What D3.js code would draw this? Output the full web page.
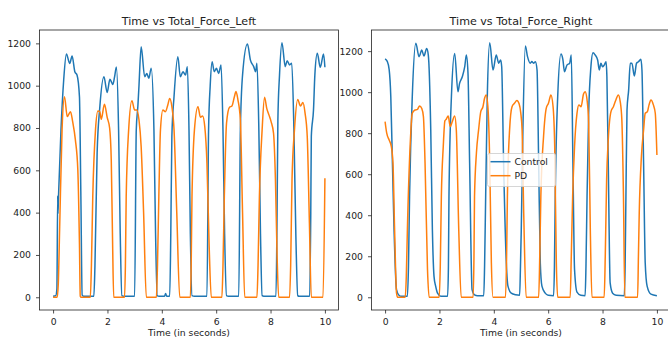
<!DOCTYPE html>
<html>
<head>
<meta charset="utf-8">
<script src="https://cdn.jsdelivr.net/npm/d3@7"></script>
<style>
  body { margin: 0; background: #fff; }
  .tick text { font-family: "DejaVu Sans", sans-serif; font-size: 9.25px; fill: #222; }
  .tick line { stroke: #222; stroke-width: 0.8; }
  .frame { fill: none; stroke: #222; stroke-width: 0.8; }
  .title, .xlabel, .legend text { font-family: "DejaVu Sans", sans-serif; fill: #222; }
</style>
</head>
<body>
<div class="container"></div>
<script>
// time (s), force pairs
var leftControl = [[0,5],[0.1,8],[0.14,40],[0.17,480],[0.18,395],[0.2,480],[0.29,791],[0.39,1027],[0.49,1150],[0.61,1105],[0.7,1140],[0.8,1066],[0.88,1050],[0.97,948],[1.02,500],[1.07,10],[1.12,5],[1.5,5],[1.54,150],[1.62,682],[1.72,900],[1.87,1042],[1.99,968],[2.09,1030],[2.2,1006],[2.26,1040],[2.33,1088],[2.41,791],[2.47,300],[2.53,8],[2.6,5],[3.0,5],[3.06,791],[3.12,905],[3.16,1000],[3.24,1184],[3.37,1042],[3.45,1058],[3.52,1035],[3.61,1082],[3.71,791],[3.77,300],[3.83,8],[3.9,5],[4.1,5],[4.14,18],[4.18,5],[4.29,5],[4.33,300],[4.37,760],[4.45,950],[4.59,1137],[4.68,1042],[4.78,1066],[4.87,1050],[4.94,1090],[5.0,791],[5.05,300],[5.11,8],[5.2,5],[5.66,5],[5.72,791],[5.78,1000],[5.85,1113],[5.93,1066],[6.01,1082],[6.09,1058],[6.18,1098],[6.25,791],[6.31,300],[6.38,8],[6.45,5],[6.83,5],[6.89,791],[6.97,1050],[7.15,1197],[7.26,1121],[7.38,1090],[7.45,1066],[7.5,1106],[7.57,791],[7.63,300],[7.69,8],[7.75,5],[8.2,5],[8.24,400],[8.27,838],[8.33,1050],[8.42,1203],[8.54,1090],[8.61,1118],[8.7,1098],[8.78,1106],[8.86,791],[8.93,300],[9.0,8],[9.05,5],[9.44,5],[9.48,400],[9.5,760],[9.58,885],[9.63,1050],[9.72,1153],[9.83,1087],[9.95,1150],[10.0,1087]];

var leftPD = [[0,0],[0.15,0],[0.19,60],[0.24,319],[0.33,791],[0.42,948],[0.52,854],[0.64,877],[0.72,830],[0.82,744],[0.91,602],[0.97,250],[1.0,5],[1.03,0],[1.37,0],[1.41,150],[1.46,476],[1.56,791],[1.65,880],[1.72,877],[1.77,841],[1.89,912],[1.99,850],[2.08,800],[2.14,650],[2.19,250],[2.23,0],[2.63,0],[2.66,150],[2.69,476],[2.78,791],[2.9,929],[3.0,885],[3.08,885],[3.16,838],[3.24,712],[3.33,400],[3.43,0],[3.8,0],[3.84,150],[3.89,476],[3.95,791],[4.04,885],[4.13,877],[4.22,909],[4.29,940],[4.37,901],[4.45,791],[4.55,400],[4.66,0],[5.05,0],[5.08,150],[5.11,476],[5.2,791],[5.33,901],[5.42,851],[5.5,857],[5.58,807],[5.66,634],[5.74,250],[5.82,0],[6.21,0],[6.25,150],[6.3,476],[6.38,822],[6.49,898],[6.58,904],[6.67,948],[6.73,972],[6.8,933],[6.89,838],[6.97,400],[7.05,0],[7.5,0],[7.54,150],[7.59,476],[7.69,791],[7.78,945],[7.86,893],[7.94,862],[8.02,830],[8.11,775],[8.18,555],[8.24,200],[8.3,0],[8.7,0],[8.74,150],[8.79,555],[8.88,791],[9.0,935],[9.1,904],[9.19,920],[9.27,870],[9.35,760],[9.43,350],[9.5,0],[9.93,0],[10.0,563]];

var rightControl = [[0,1162],[0.08,1150],[0.15,1110],[0.21,978],[0.27,654],[0.33,329],[0.42,37],[0.51,10],[0.6,5],[0.82,5],[0.86,150],[0.9,491],[1.0,978],[1.13,1238],[1.25,1173],[1.35,1205],[1.43,1176],[1.53,1213],[1.59,1181],[1.68,816],[1.74,329],[1.8,102],[1.86,54],[1.93,20],[2.05,5],[2.3,5],[2.33,150],[2.35,491],[2.44,978],[2.56,1189],[2.68,1002],[2.74,1043],[2.84,1075],[2.93,1124],[2.99,1181],[3.05,1092],[3.11,654],[3.2,37],[3.29,12],[3.4,8],[3.63,8],[3.66,150],[3.7,491],[3.76,978],[3.85,1241],[3.97,1108],[4.09,1181],[4.18,1141],[4.25,1157],[4.29,1124],[4.36,654],[4.46,167],[4.52,54],[4.64,20],[4.8,12],[4.95,10],[4.98,150],[5.01,329],[5.07,816],[5.16,1225],[5.24,1173],[5.34,1141],[5.4,1149],[5.46,1141],[5.53,1148],[5.59,1108],[5.65,654],[5.71,167],[5.77,54],[5.89,20],[6.0,10],[6.2,8],[6.23,150],[6.26,491],[6.35,978],[6.47,1186],[6.54,1160],[6.6,1100],[6.69,1132],[6.79,1141],[6.85,1181],[6.91,654],[6.97,135],[7.06,25],[7.2,10],[7.36,8],[7.39,150],[7.43,491],[7.49,900],[7.57,1120],[7.65,1192],[7.73,1181],[7.82,1157],[7.88,1108],[7.94,1141],[8.0,1124],[8.06,1132],[8.13,1148],[8.16,1075],[8.21,654],[8.28,70],[8.37,20],[8.5,10],[8.8,8],[8.83,150],[8.86,491],[8.9,913],[8.96,1010],[9.02,1141],[9.08,1141],[9.17,1079],[9.25,1141],[9.32,1148],[9.41,1160],[9.45,1108],[9.51,654],[9.57,167],[9.64,54],[9.78,15],[10.0,8]];

var rightPD = [[0,856],[0.06,800],[0.15,767],[0.23,735],[0.29,654],[0.35,329],[0.42,21],[0.46,0],[0.74,0],[0.78,100],[0.82,329],[0.92,735],[1.0,897],[1.1,913],[1.19,916],[1.27,933],[1.35,920],[1.41,881],[1.47,654],[1.56,135],[1.62,0],[1.99,0],[2.03,150],[2.07,491],[2.14,735],[2.2,860],[2.25,868],[2.32,884],[2.4,832],[2.47,856],[2.56,884],[2.62,816],[2.71,329],[2.8,0],[3.24,0],[3.27,200],[3.29,491],[3.36,703],[3.44,816],[3.52,905],[3.6,929],[3.66,970],[3.72,986],[3.79,913],[3.85,654],[3.91,167],[3.97,0],[4.43,0],[4.47,200],[4.5,491],[4.58,816],[4.67,929],[4.76,946],[4.85,959],[4.93,943],[4.99,900],[5.04,816],[5.1,411],[5.19,0],[5.65,0],[5.69,200],[5.73,491],[5.83,784],[5.93,922],[6.01,946],[6.1,986],[6.18,929],[6.24,735],[6.3,167],[6.35,0],[6.81,0],[6.85,200],[6.9,491],[6.97,735],[7.06,897],[7.13,938],[7.21,929],[7.3,991],[7.36,1002],[7.43,962],[7.49,848],[7.55,329],[7.61,0],[8.06,0],[8.1,200],[8.15,573],[8.21,767],[8.31,905],[8.4,929],[8.49,962],[8.58,986],[8.65,954],[8.71,865],[8.77,491],[8.82,0],[9.29,0],[9.32,200],[9.35,411],[9.43,686],[9.51,816],[9.57,897],[9.65,905],[9.71,938],[9.78,962],[9.87,938],[9.94,897],[10.0,694]];

var seriesNames = ["Control", "PD"];
var colors = ["#1f77b4", "#ff7f0e"];
var xTicks = [0, 2, 4, 6, 8, 10];
var yTicks = [0, 200, 400, 600, 800, 1000, 1200];
var titles = ["Time vs Total_Force_Left", "Time vs Total_Force_Right"];
var xLabel = "Time (in seconds)";

const WIDTH = 668;
const HEIGHT = 338;
const TOP = 30;
const BOTTOM = 310;
const PANEL_W = 299;

var translate = function (x, y) {
  return "translate(" + x + "," + y + ")";
};

var svg = d3.select('.container').append('svg')
  .attr('width', WIDTH)
  .attr('height', HEIGHT);

var drawPanel = function (left, title, data, withLegend) {
  var all = data[0].concat(data[1]);
  var tExt = d3.extent(all, function (d) { return d[0]; });
  var fExt = d3.extent(all, function (d) { return d[1]; });
  var tPad = (tExt[1] - tExt[0]) * 0.05;
  var fPad = (fExt[1] - fExt[0]) * 0.05;

  var xScale = d3.scaleLinear()
    .domain([tExt[0] - tPad, tExt[1] + tPad])
    .range([left, left + PANEL_W]);
  var yScale = d3.scaleLinear()
    .domain([fExt[0] - fPad, fExt[1] + fPad])
    .range([BOTTOM, TOP]);

  var line = d3.line()
    .x(function (d) { return xScale(d[0]); })
    .y(function (d) { return yScale(d[1]); })
    .curve(d3.curveMonotoneX);

  var g = svg.append('g');

  data.forEach(function (s, i) {
    g.append('path')
      .attr('d', line(s))
      .attr('fill', 'none')
      .attr('stroke', colors[i])
      .attr('stroke-width', 1.5)
      .attr('stroke-linejoin', 'round');
  });

  g.append('g')
    .attr('transform', translate(0, BOTTOM))
    .call(d3.axisBottom(xScale).tickValues(xTicks).tickFormat(d3.format('d')).tickSize(3.5).tickPadding(4.9))
    .call(function (a) { a.select('.domain').remove(); });
  g.append('g')
    .attr('transform', translate(left, 0))
    .call(d3.axisLeft(yScale).tickValues(yTicks).tickFormat(d3.format('d')).tickSize(3.5).tickPadding(5))
    .call(function (a) { a.select('.domain').remove(); });

  g.append('rect')
    .classed('frame', true)
    .attr('x', left).attr('y', TOP)
    .attr('width', PANEL_W).attr('height', BOTTOM - TOP);

  g.append('text')
    .classed('title', true)
    .attr('x', left + PANEL_W / 2).attr('y', 24.5)
    .attr('text-anchor', 'middle')
    .attr('font-size', 11.1)
    .text(title);

  g.append('text')
    .classed('xlabel', true)
    .attr('x', left + PANEL_W / 2).attr('y', 336.3)
    .attr('text-anchor', 'middle')
    .attr('font-size', 9.25)
    .text(xLabel);

  if (withLegend) {
    var lg = g.append('g').classed('legend', true).attr('transform', translate(487.5, 153.5));
    lg.append('rect')
      .attr('width', 68).attr('height', 33).attr('rx', 2)
      .attr('fill', '#fff').attr('fill-opacity', 0.8)
      .attr('stroke', '#ccc').attr('stroke-width', 0.8);
    seriesNames.forEach(function (name, i) {
      var y = 8.2 + i * 14;
      lg.append('line')
        .attr('x1', 3).attr('x2', 23).attr('y1', y).attr('y2', y)
        .attr('stroke', colors[i]).attr('stroke-width', 1.5);
      lg.append('text')
        .attr('x', 27).attr('y', y).attr('dy', '0.35em')
        .attr('font-size', 9.25)
        .text(name);
    });
  }
};

drawPanel(39.5, titles[0], [leftControl, leftPD], false);
drawPanel(371.5, titles[1], [rightControl, rightPD], true);
</script>
</body>
</html>
